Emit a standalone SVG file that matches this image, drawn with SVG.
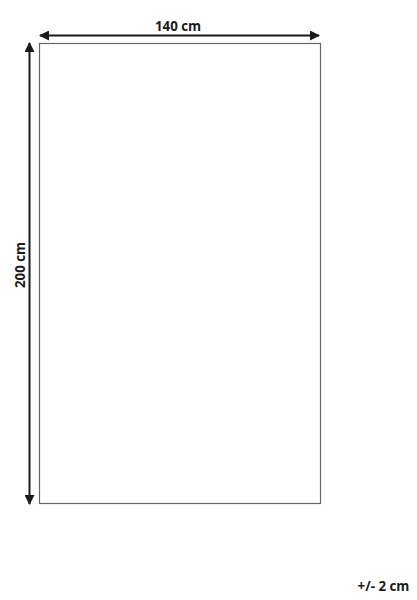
<svg xmlns="http://www.w3.org/2000/svg" width="417" height="600" viewBox="0 0 417 600">
<style>
.lbl{font-family:"Open Sans","Liberation Sans",sans-serif;font-weight:bold;font-size:13.3px;fill:#1a1a1a}
.dim{stroke:#1a1a1a;stroke-width:2;fill:none}
</style>
<defs>
<marker id="ah" viewBox="0 0 10 10" refX="9" refY="5" markerWidth="5" markerHeight="5" orient="auto-start-reverse" markerUnits="strokeWidth">
<path d="M0,0 L10,5 L0,10 Z" fill="#1a1a1a"/>
</marker>
</defs>
<rect width="417" height="600" fill="#fff"/>
<g id="rug">
<rect x="39.5" y="43.5" width="281" height="460" fill="#fff" stroke="#666" stroke-width="1.2"/>
</g>
<g id="connectors">
<line class="dim" x1="40" y1="35.5" x2="319" y2="35.5" marker-start="url(#ah)" marker-end="url(#ah)"/>
<line class="dim" x1="29.5" y1="43" x2="29.5" y2="504" marker-start="url(#ah)" marker-end="url(#ah)"/>
</g>
<g id="label-width"><text class="lbl" x="178" y="31" text-anchor="middle">140 cm</text></g>
<g id="label-height"><text class="lbl" transform="translate(24.5,265) rotate(-90)" text-anchor="middle">200 cm</text></g>
<g id="label-tol"><text class="lbl" x="383.5" y="591" text-anchor="middle">+/- 2 cm</text></g>
</svg>
